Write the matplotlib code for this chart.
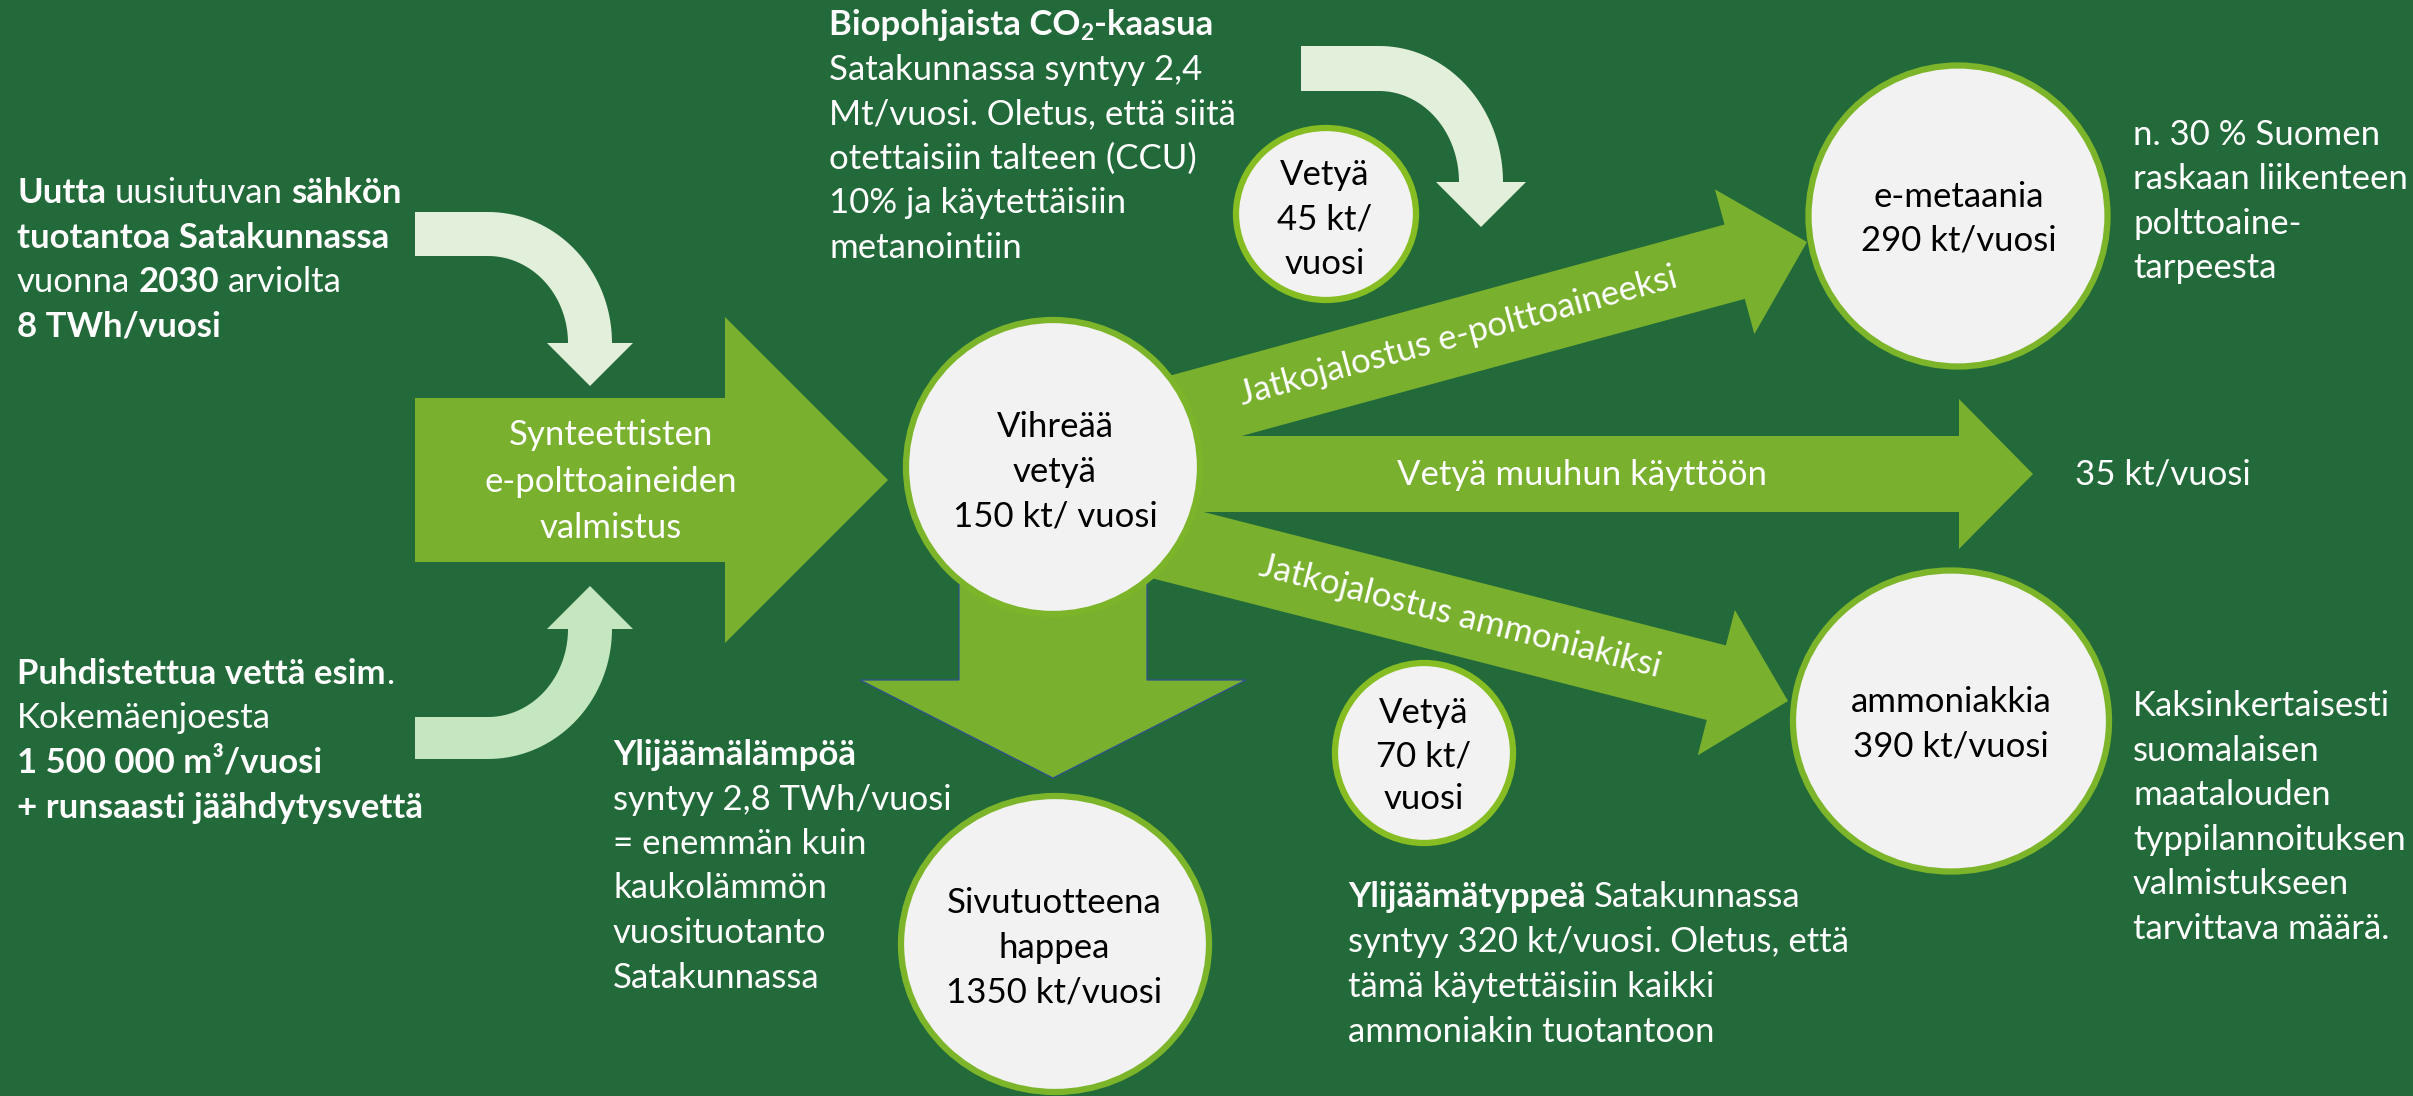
import numpy as np
import matplotlib.pyplot as plt
from matplotlib.patches import Polygon, Ellipse

FONT = ['Lato', 'DejaVu Sans']
FS = 25          # font size in points
STEP = 44.5      # line step in pixels
SPACE = 0.24     # word gap, in em

BG = '#236A3A'
LIME = '#79B02E'
RING = '#7DB52A'
RING_SMALL = '#86BD22'
PALE_TOP = '#E2EFDA'
PALE_BOTTOM = '#C4E7C0'
DISC = '#F2F2F2'

# ---- texts of the diagram ----
power_lines = [
    [("Uutta", True), (" uusiutuvan", False), (" sähkön", True)],
    [("tuotantoa Satakunnassa", True)],
    [("vuonna", False), (" 2030", True), (" arviolta", False)],
    [("8 TWh/vuosi", True)],
]
water_lines = [
    [("Puhdistettua vettä esim", True), (".", False)],
    [("Kokemäenjoesta", False)],
    [("1 500 000 m³/vuosi", True)],
    [("+ runsaasti jäähdytysvettä", True)],
]
co2_lines = [
    [("Biopohjaista CO", True), ("2", True, 'sub'), ("-kaasua", True)],
    [("Satakunnassa syntyy 2,4", False)],
    [("Mt/vuosi. Oletus, että siitä", False)],
    [("otettaisiin talteen (CCU)", False)],
    [("10% ja käytettäisiin", False)],
    [("metanointiin", False)],
]
heat_lines = [
    [("Ylijäämälämpöä", True)],
    [("syntyy 2,8 TWh/vuosi", False)],
    [("= enemmän kuin", False)],
    [("kaukolämmön", False)],
    [("vuosituotanto", False)],
    [("Satakunnassa", False)],
]
nitrogen_lines = [
    [("Ylijäämätyppeä", True), (" Satakunnassa", False)],
    [("syntyy 320 kt/vuosi. Oletus, että", False)],
    [("tämä käytettäisiin kaikki", False)],
    [("ammoniakin tuotantoon", False)],
]
methane_note = ["n. 30 % Suomen", "raskaan liikenteen", "polttoaine-", "tarpeesta"]
ammonia_note = ["Kaksinkertaisesti", "suomalaisen", "maatalouden",
                "typpilannoituksen", "valmistukseen", "tarvittava määrä."]
other_use = "35 kt/vuosi"

main_arrow_label = ["Synteettisten", "e-polttoaineiden", "valmistus"]
hydrogen_label = ["Vihreää", "vetyä", "150 kt/ vuosi"]
h2_methane_label = ["Vetyä", "45 kt/", "vuosi"]
h2_ammonia_label = ["Vetyä", "70 kt/", "vuosi"]
methane_label = ["e-metaania", "290 kt/vuosi"]
ammonia_label = ["ammoniakkia", "390 kt/vuosi"]
oxygen_label = ["Sivutuotteena", "happea", "1350 kt/vuosi"]
flow_up = "Jatkojalostus e-polttoaineeksi"
flow_mid = "Vetyä muuhun käyttöön"
flow_down = "Jatkojalostus ammoniakiksi"

fig = plt.figure(figsize=(24.13, 10.96), dpi=100)
fig.patch.set_facecolor(BG)
ax = fig.add_axes([0, 0, 1, 1])
ax.set_xlim(0, 2413)
ax.set_ylim(1096, 0)
ax.axis('off')


def arrow(tail, tip, bw, hw, hl, color=LIME, **kw):
    tail = np.array(tail, float)
    tip = np.array(tip, float)
    u = (tip - tail) / np.linalg.norm(tip - tail)
    n = np.array([-u[1], u[0]])
    base = tip - u * hl
    pts = [tail + n * bw, base + n * bw, base + n * hw, tip,
           base - n * hw, base - n * bw, tail - n * bw]
    ax.add_patch(Polygon(pts, closed=True, facecolor=color, **kw))


def bent_arrow(x0, y_top, y_bot, cx, cy, head_half, tip_y, color, up=False):
    # horizontal band that bends into a vertical arrow
    t = np.linspace(0, np.pi / 2, 40)
    ro_x, ri_x = None, None
    sgn = -1 if up else 1
    if not up:
        rox, roy = 124, cy - y_top
        rix, riy = 80, cy - y_bot
        outer = [(cx + rox * np.sin(a), cy - roy * np.cos(a)) for a in t]
        inner = [(cx + rix * np.sin(a), cy - riy * np.cos(a)) for a in t[::-1]]
        start_o, start_i = (x0, y_top), (x0, y_bot)
    else:
        rox, roy = 124, y_bot - cy
        rix, riy = 80, y_top - cy
        outer = [(cx + rox * np.sin(a), cy + roy * np.cos(a)) for a in t]
        inner = [(cx + rix * np.sin(a), cy + riy * np.cos(a)) for a in t[::-1]]
        start_o, start_i = (x0, y_bot), (x0, y_top)
    mid = cx + (rox + rix) / 2
    head = [(mid + head_half, cy), (mid, tip_y), (mid - head_half, cy)]
    pts = [start_o] + outer + head + inner + [start_i]
    ax.add_patch(Polygon(pts, closed=True, facecolor=color, edgecolor='none'))


def disc(c, w, h, ring=RING):
    ax.add_patch(Ellipse(c, w, h, facecolor=DISC, edgecolor=ring, lw=4.5, zorder=3))


def centered(x, y0, lines, color='black', step=STEP):
    for i, s in enumerate(lines):
        ax.text(x, y0 + i * step, s, color=color, family=FONT, fontsize=FS,
                ha='center', va='center', zorder=5)


def rich_block(x, y0, lines, color='white', step=STEP):
    for i, runs in enumerate(lines):
        y = y0 + i * step
        first = prev = None
        for run in runs:
            txt, bold = run[0], run[1]
            sub = len(run) > 2
            gap = 0
            if txt.startswith(' '):
                txt = txt[1:]
                gap = SPACE * FS
            kw = dict(color=color, family=FONT, fontweight='bold' if bold else 'normal',
                      fontsize=FS * 0.65 if sub else FS, va='center', ha='left', zorder=5)
            if first is None:
                first = prev = ax.text(x, y, txt, **kw)
            else:
                dy = -0.24 * FS if sub else 0
                prev = ax.annotate(txt, xy=(1, 0.5), xycoords=(prev, first),
                                   xytext=(gap, dy), textcoords='offset points', **kw)


# pale input arrows
bent_arrow(415, 212, 256, 488, 343, 43, 386, PALE_TOP)
bent_arrow(415, 717, 759, 488, 629, 43, 586, PALE_BOTTOM, up=True)
bent_arrow(1301, 46, 91, 1379, 182, 45, 227, PALE_TOP)

# main process arrow
arrow((415, 480), (888, 480), 82, 163, 163)

# outputs from hydrogen
arrow((1053, 560), (1053, 778), 94, 193, 98, edgecolor='#2F528F', lw=0.9)
arrow((1150, 474), (2033, 474), 38, 75, 74)
arrow((1150, 421), (1807, 242), 38.5, 75, 75)
arrow((1150, 538), (1788, 701), 38.5, 75, 74)

# discs
disc((1053, 467), 294, 294)
disc((1326, 214), 180, 172, RING_SMALL)
disc((1424, 753), 178, 180, RING_SMALL)
disc((1958, 216), 299, 301)
disc((1951, 721), 316, 301)
disc((1055, 944), 308, 296)

centered(1055, 427, hydrogen_label, step=45)
centered(1325, 175, h2_methane_label)
centered(1424, 713, h2_ammonia_label, step=43)
centered(1959, 197, methane_label, step=43)
centered(1951, 702, ammonia_label, step=44)
centered(1054, 903, oxygen_label, step=44.5)
centered(611, 435, main_arrow_label, color='white', step=46.5)

ax.text(1458, 336, flow_up, color='white', family=FONT, fontsize=FS, rotation=15.2,
        rotation_mode='anchor', ha='center', va='center', zorder=5)
ax.text(1460, 617, flow_down, color='white', family=FONT, fontsize=FS, rotation=-14.3,
        rotation_mode='anchor', ha='center', va='center', zorder=5)
ax.text(1582, 475, flow_mid, color='white', family=FONT, fontsize=FS,
        ha='center', va='center', zorder=5)

# side notes
rich_block(17, 193, power_lines)
rich_block(17, 674, water_lines)
rich_block(829, 25, co2_lines)
rich_block(613, 755, heat_lines)
rich_block(1348, 897, nitrogen_lines, step=45)
for i, s in enumerate(methane_note):
    ax.text(2133, 135 + i * 44.3, s, color='white', family=FONT, fontsize=FS, va='center')
for i, s in enumerate(ammonia_note):
    ax.text(2133, 706 + i * 44.6, s, color='white', family=FONT, fontsize=FS, va='center')
ax.text(2075, 474, other_use, color='white', family=FONT, fontsize=FS, va='center')

fig.savefig('out.png', dpi=100, facecolor=BG)
